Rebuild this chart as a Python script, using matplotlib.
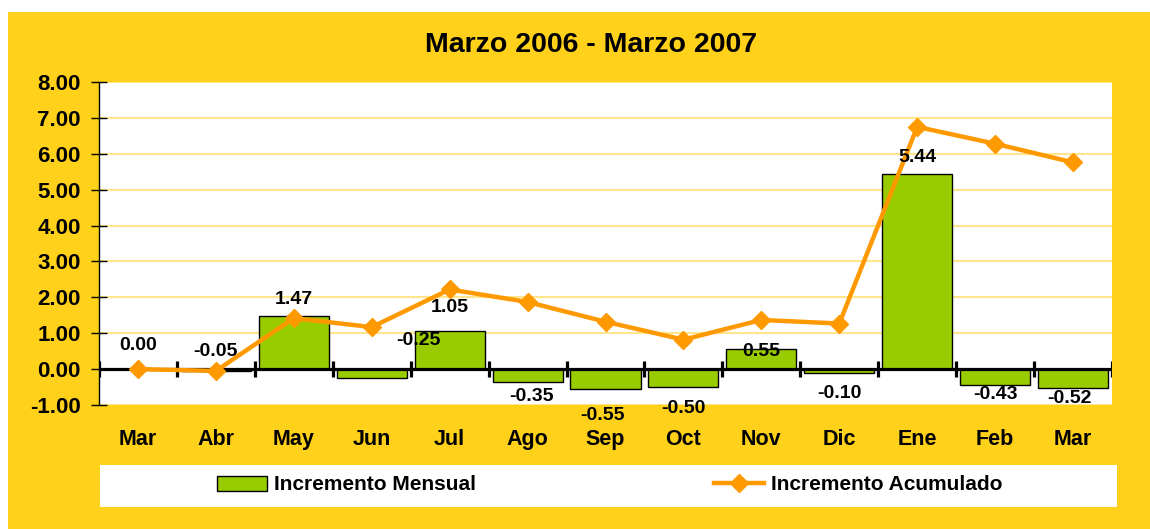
import numpy as np
import matplotlib
matplotlib.use('Agg')
import matplotlib.pyplot as plt
from matplotlib.patches import Rectangle
from matplotlib.lines import Line2D

# data
months = ['Mar', 'Abr', 'May', 'Jun', 'Jul', 'Ago', 'Sep', 'Oct', 'Nov', 'Dic', 'Ene', 'Feb', 'Mar']
mensual = [0.00, -0.05, 1.47, -0.25, 1.05, -0.35, -0.55, -0.50, 0.55, -0.10, 5.44, -0.43, -0.52]
acumulado = [0.00, -0.05, 1.42, 1.17, 2.22, 1.87, 1.32, 0.82, 1.37, 1.27, 6.75, 6.28, 5.76]

# where the value labels sit (dx in categories, y in data units)
label_dx = [0, 0, 0, 0.6, 0, 0.05, -0.04, 0, 0, 0, 0, 0, -0.04]
label_y = [0.67, 0.50, 1.95, 0.81, 1.73, -0.75, -1.28, -1.09, 0.50, -0.67, 5.91, -0.72, -0.81]

YELLOW = '#FFD11A'
GREEN = '#99CC00'
ORANGE = '#FF9900'
GRID = '#FFE68C'

plt.rcParams['font.family'] = ['Liberation Sans', 'DejaVu Sans']
plt.rcParams['font.weight'] = 'bold'

W, H = 1150, 529
fig = plt.figure(figsize=(W / 100, H / 100), dpi=100)
fig.patch.set_facecolor('white')

# yellow frame (white strip on the left and top)
fig.patches.append(Rectangle((8 / W, 0), 1, 1 - 12 / H, transform=fig.transFigure,
                             facecolor=YELLOW, edgecolor='none', zorder=0))
# white legend box
fig.patches.append(Rectangle((100 / W, 1 - 507 / H), (1117 - 100) / W, (507 - 465) / H,
                             transform=fig.transFigure, facecolor='white',
                             edgecolor='none', zorder=1))

ax = fig.add_axes([99 / W, 1 - 405 / H, (1112 - 99) / W, (405 - 82) / H])
ax.set_zorder(3)
ax.set_facecolor('white')
x = np.arange(len(months))

ax.bar(x, mensual, width=0.9, color=GREEN, edgecolor='black', linewidth=1.0, zorder=3)
ax.plot(x, acumulado, color=ORANGE, lw=3.2, marker='D', markersize=9.5, zorder=5)

# category axis through zero
ax.axhline(0, color='black', lw=2.3, zorder=4)
ax.vlines(np.arange(-0.5, len(months), 1.0), -0.22, 0.22, color='black', lw=2.3, zorder=4)

for i, v in enumerate(mensual):
    ax.text(x[i] + label_dx[i], label_y[i], f'{v:.2f}', ha='center', va='center',
            fontsize=14, fontweight='bold', zorder=6)

ax.set_xlim(-0.5, len(months) - 0.5)
ax.set_ylim(-1, 8)
ax.set_yticks(np.arange(-1, 9, 1))
ax.set_yticklabels([f'{v:.2f}' for v in np.arange(-1, 9, 1)], fontsize=16, fontweight='bold')
ax.yaxis.grid(True, color=GRID, lw=1.5, zorder=0)
ax.set_axisbelow(True)
ax.tick_params(axis='y', direction='inout', length=12, width=1, pad=7)

ax.set_xticks(x)
ax.set_xticklabels(months, fontsize=15.5, fontweight='bold')
ax.tick_params(axis='x', length=0, pad=17)

for s in ['top', 'right', 'bottom']:
    ax.spines[s].set_visible(False)
ax.spines['left'].set_linewidth(1)

fig.text(591 / W, 1 - 45 / H, 'Marzo 2006 - Marzo 2007', ha='center', va='center',
         fontsize=20.5, fontweight='bold')

handles = [Rectangle((0, 0), 1, 1, facecolor=GREEN, edgecolor='black', lw=1),
           Line2D([], [], color=ORANGE, lw=3.2, marker='D', markersize=9.5)]
leg = fig.legend(handles, ['Incremento Mensual', 'Incremento Acumulado'], ncol=2,
                 loc='center left', bbox_to_anchor=(217 / W, 1 - 485 / H), frameon=False,
                 prop={'size': 15, 'weight': 'bold'}, handlelength=2.4, handletextpad=0.35,
                 columnspacing=11.4, borderpad=0, borderaxespad=0)
leg.set_zorder(4)

fig.savefig('out.png', dpi=100, facecolor=fig.get_facecolor())
